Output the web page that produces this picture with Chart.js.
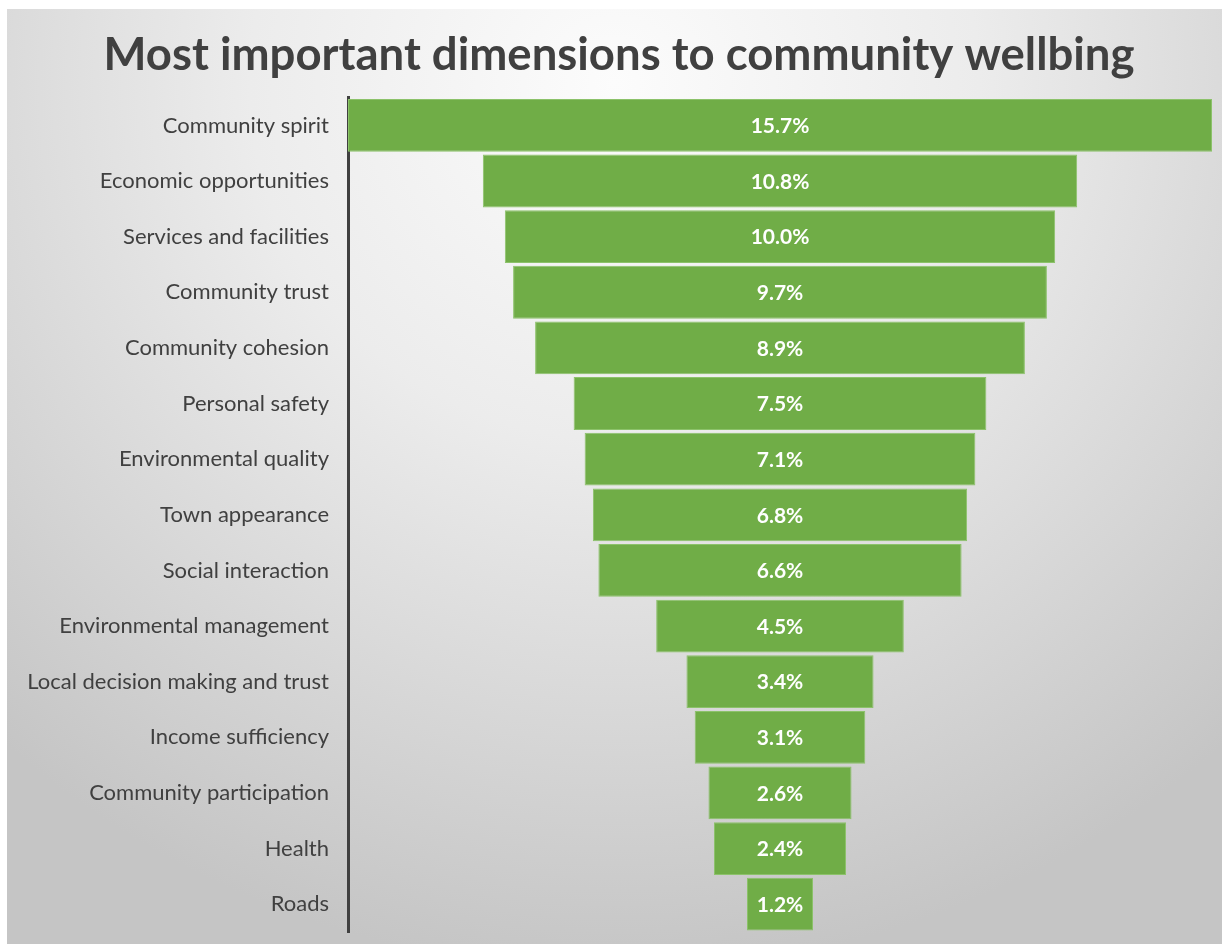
<!DOCTYPE html>
<html>
<head>
<meta charset="utf-8">
<script src="https://cdn.jsdelivr.net/npm/chart.js@4"></script>
<style>
    html, body {
        margin: 0;
        background: #ffffff;
    }
    #frame {
        position: absolute;
        left: 7px;
        top: 9px;
        width: 1215px;
        height: 935px;
        background: radial-gradient(ellipse 75% 95% at 50% 8%, #fcfcfc 0%, #ececec 40%, #c5c5c5 100%);
    }
</style>
</head>
<body>
<div id="frame"><canvas id="chart"></canvas></div>
<script>
// Share of responses per wellbeing dimension, largest first.
const dimensions = [
    "Community spirit",
    "Economic opportunities",
    "Services and facilities",
    "Community trust",
    "Community cohesion",
    "Personal safety",
    "Environmental quality",
    "Town appearance",
    "Social interaction",
    "Environmental management",
    "Local decision making and trust",
    "Income sufficiency",
    "Community participation",
    "Health",
    "Roads",
];
const shares = [15.7, 10.8, 10.0, 9.7, 8.9, 7.5, 7.1, 6.8, 6.6, 4.5, 3.4, 3.1, 2.6, 2.4, 1.2];

const TEXT_COLOR = "#404040";
const FONT = "Lato, 'Open Sans', sans-serif";

// Funnel look: every bar is centred on zero, spanning half its value each side.
const funnelRanges = shares.map((v) => [-v / 2, v / 2]);
const halfSpan = Math.max(...shares) / 2;

// Writes the percentage in the middle of each bar.
const barValueLabels = {
    id: "barValueLabels",
    afterDatasetsDraw(chart) {
        const ctx = chart.ctx;
        const meta = chart.getDatasetMeta(0);
        ctx.save();
        ctx.fillStyle = "#ffffff";
        ctx.font = "bold 21px " + FONT;
        ctx.textAlign = "center";
        ctx.textBaseline = "middle";
        meta.data.forEach((bar, i) => {
            const cx = (bar.x + bar.base) / 2;
            ctx.fillText(shares[i].toFixed(1) + "%", cx, bar.y + 1);
        });
        ctx.restore();
    },
};

new Chart(document.getElementById("chart"), {
    type: "bar",
    data: {
        labels: dimensions,
        datasets: [
            {
                data: funnelRanges,
                backgroundColor: "#70ad47",
                borderColor: "#8cc26a",
                borderWidth: 1,
                borderSkipped: false,
                barPercentage: 0.95,
                categoryPercentage: 1,
            },
        ],
    },
    options: {
        indexAxis: "y",
        responsive: true,
        maintainAspectRatio: false,
        animation: false,
        layout: {
            padding: { left: 19, right: 10, bottom: 12 },
        },
        plugins: {
            legend: { display: false },
            tooltip: { enabled: false },
            title: {
                display: true,
                text: "Most important dimensions to community wellbing",
                color: TEXT_COLOR,
                font: { family: FONT, size: 45.5, weight: "bold" },
                padding: { top: 19, bottom: 15 },
            },
        },
        scales: {
            x: {
                type: "linear",
                min: -halfSpan,
                max: halfSpan,
                display: false,
            },
            y: {
                grid: { display: false },
                border: { display: true, color: TEXT_COLOR, width: 3 },
                ticks: {
                    color: TEXT_COLOR,
                    font: { family: FONT, size: 22 },
                    padding: 11,
                },
                afterFit(scale) {
                    // fixed label column; bars sit inside their rows so no end padding
                    scale.width = 322;
                    scale.paddingTop = 0;
                    scale.paddingBottom = 0;
                },
            },
        },
    },
    plugins: [barValueLabels],
});
</script>
</body>
</html>
